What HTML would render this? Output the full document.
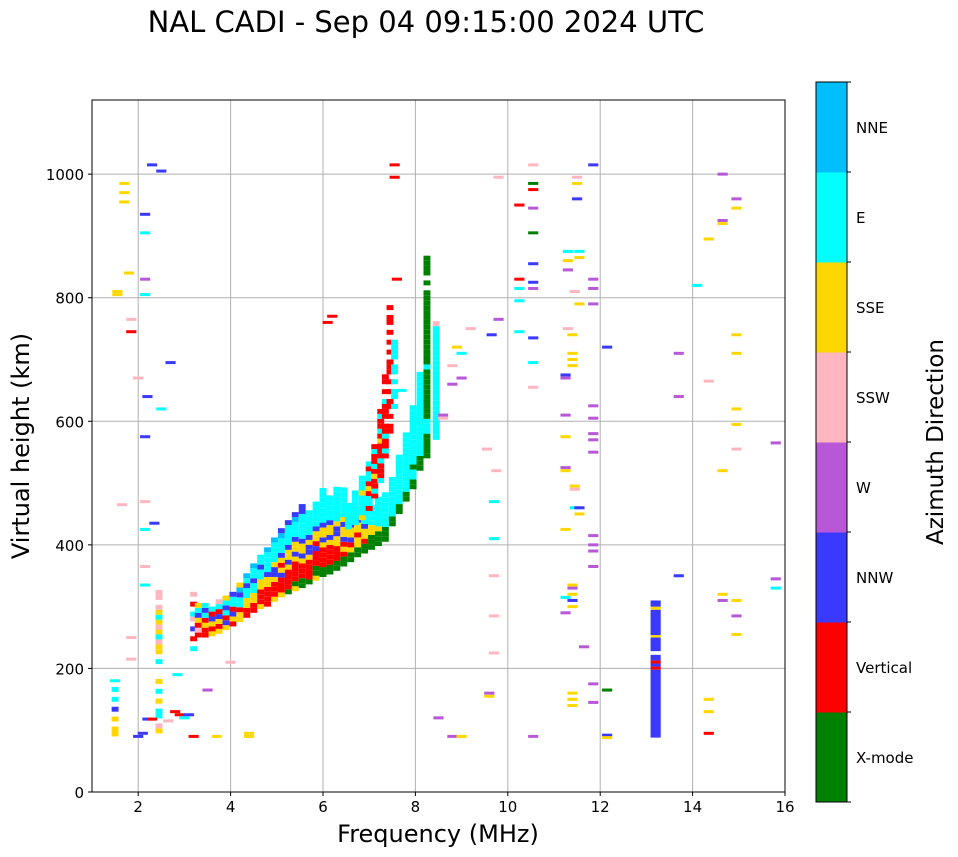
<!DOCTYPE html>
<html><head><meta charset="utf-8">
<style>
body{margin:0;background:#fff;}
svg{display:block;font-family:"DejaVu Sans","Liberation Sans",sans-serif;}
</style></head>
<body>
<svg id="chart" width="958" height="857" xmlns="http://www.w3.org/2000/svg">
<text x="426" y="32" font-size="29" text-anchor="middle">NAL CADI - Sep 04 09:15:00 2024 UTC</text>
<g id="grid"></g>
<g id="marks"></g>
<rect x="92" y="100" width="693" height="692" fill="none" stroke="#000" stroke-width="1"/>
<g id="axes"></g>
<text x="438" y="842" font-size="24" text-anchor="middle">Frequency (MHz)</text>
<text transform="translate(29,446) rotate(-90)" font-size="24" text-anchor="middle">Virtual height (km)</text>
<g id="cbar"></g>
<text transform="translate(943,442) rotate(-90)" font-size="23" text-anchor="middle">Azimuth Direction</text>
</svg>
<script>
// ---- data ----
const classNames = ["X-mode","Vertical","NNW","W","SSW","SSE","E","NNE"];
const classColors = ["#008000","#ff0000","#3a3aff","#b858d8","#ffb6c1","#ffd700","#00ffff","#00bfff"];
const xTicks = [2,4,6,8,10,12,14,16];
const yTicks = [0,200,400,600,800,1000];
// trace columns: [freq MHz, lowest height km, classes bottom->top per 8 km cell ('.' = none)]
const traceColumns = [
 [1.5,90,"55.5.2.6.6"],
 [2.45,95,"54.66.5.6.5...6.5546545654.44"],
 [3.2,228,"6.1.2.46.1.4"],
 [3.3,250,"1415265"],
 [3.45,250,"1151626"],
 [3.6,252,"515216"],
 [3.75,256,"5152164"],
 [3.9,262,"5216265"],
 [4.05,268,"1521662"],
 [4.2,275,"55166275"],
 [4.35,282,"115566267"],
 [4.5,290,"1155662667"],
 [4.65,296,"51115566266"],
 [4.8,300,"111155266667"],
 [4.95,308,"5111522566667"],
 [5.1,315,"51112515266672"],
 [5.25,320,"011115255266662"],
 [5.4,325,"5011115255266672"],
 [5.55,330,"00111525526666622"],
 [5.7,336,"011115225266666"],
 [5.85,342,"5001112155266666"],
 [6.0,348,"001111525526666666"],
 [6.15,352,"0011115255266666"],
 [6.3,358,"00111552256666666"],
 [6.45,365,"0015125525666666"],
 [6.6,372,"005125526666"],
 [6.75,380,"0055155266"],
 [6.9,386,"0015526666"],
 [7.05,392,"000556666"],
 [7.2,398,"0005666666"],
 [7.35,405,"0006666666"],
 [7.5,430,"0066666666"],
 [7.65,450,"006666666666"],
 [7.8,470,"00666666666666"],
 [7.95,490,"00660666666666666"],
 [8.1,520,"00066666666666666666"],
 [8.25,540,"0000066600000000006000000000000000.0.0000"],
 [8.45,570,"666666666666666666666664"],
 [6.55,425,"66666"],
 [6.7,432,"6666666"],
 [6.85,440,"566665666"],
 [7.0,455,"1661516616"],
 [7.12,475,"16115161161"],
 [7.25,500,"611161115161161"],
 [7.35,540,"1611611.1116.1.11"],
 [7.45,580,"11.1.11.1.1.111.1.1.1.11.1"],
 [7.55,620,"6.66.6.66.6666"]
];
// isolated points: [freq, height, class]
const pointFreq = [1.7,1.7,1.7,1.55,1.55,1.8,1.85,1.85,2.3,2.5,2.15,2.15,2.15,2.15,2.7,2.0,2.2,2.5,2.15,2.15,2.15,2.35,1.65,2.15,2.15,1.85,1.85,1.5,2.0,2.1,2.2,2.3,2.8,2.9,3.0,3.1,2.65,3.2,3.5,3.7,4.0,4.4,4.4,2.85,
 7.55,7.55,6.2,6.1,7.6,7.7,8.9,8.8,8.8,9.0,9.0,8.6,8.6,9.2,9.55,9.8,9.8,9.65,9.75,9.7,9.7,9.7,9.7,9.7,9.6,9.6,8.5,8.8,9.0,
 10.25,10.25,10.25,10.25,10.25,10.55,10.55,10.55,10.55,10.55,10.55,10.55,10.55,10.55,10.55,10.55,10.55,
 11.3,11.3,11.3,11.5,11.5,11.5,11.55,11.55,11.45,11.55,11.3,11.4,11.4,11.4,11.4,11.25,11.25,11.25,11.25,11.25,11.25,11.45,11.45,11.45,11.55,11.55,11.25,11.4,11.4,11.4,11.25,11.4,11.4,11.25,11.65,11.4,11.4,11.4,
 11.85,11.85,11.85,11.85,11.85,11.85,11.85,11.85,11.85,11.85,11.85,11.85,11.85,11.85,11.85,12.15,12.15,12.15,12.15,
 13.7,13.7,13.7,14.1,14.35,14.35,14.35,14.35,14.35,14.65,14.65,14.65,14.65,14.65,14.65,14.95,14.95,14.95,14.95,14.95,14.95,14.95,14.95,14.95,14.95,15.8,15.8,15.8];
const pointHeight = [985,970,955,810,805,840,765,745,1015,1005,935,905,830,805,695,670,640,620,575,470,425,435,465,365,335,250,215,180,90,95,118,118,130,125,120,125,115,90,165,90,210,95,90,190,
 1015,995,770,760,830,650,720,690,660,710,670,605,610,750,555,995,765,740,520,470,410,350,285,225,160,155,120,90,90,
 950,830,815,795,745,1015,985,975,945,905,855,825,815,735,695,655,90,
 875,860,845,995,985,960,875,865,810,790,750,740,710,700,690,675,670,610,575,525,520,495,490,460,460,450,425,335,330,320,315,310,300,290,235,160,150,140,
 1015,830,815,790,625,605,580,570,550,415,400,390,365,175,145,720,165,92,88,
 710,640,350,820,895,665,150,130,95,1000,925,920,520,320,310,960,945,740,710,620,595,555,310,285,255,565,345,330];
const pointClass = [5,5,5,5,5,5,4,1,2,2,2,6,3,6,2,4,2,6,2,4,6,2,4,4,6,4,4,6,2,2,2,1,1,1,6,2,4,1,3,5,4,5,5,6,
 1,1,1,1,1,6,5,4,3,6,3,4,3,4,4,4,3,2,4,6,6,4,4,4,3,5,3,3,5,
 1,1,6,6,6,4,0,1,3,0,2,2,3,2,6,4,3,
 6,5,3,4,5,2,6,5,4,5,4,5,5,5,5,2,3,3,5,3,5,5,4,6,2,5,5,5,3,5,6,2,5,3,3,5,5,5,
 2,3,3,3,3,3,3,3,3,3,3,3,3,3,3,2,0,2,5,
 3,3,2,6,5,4,5,5,1,3,3,5,5,5,3,3,5,5,5,5,5,4,5,3,5,3,3,6];
// vertical bar at 13.2 MHz: segments [from km, to km, class]
const barFreq = 13.2;
const barSegments = [[88,198,2],[198,203,1],[203,208,2],[208,213,1],[213,222,2],[228,250,2],[250,254,5],[254,295,2],[295,300,5],[300,310,2]];

// ---- scales ----
const X0=92,X1=785,Y0=792,Y1=100;
const xs = f => X0 + (f-1)/(16-1)*(X1-X0);
const ys = h => Y0 - h/1120*(Y0-Y1);
const NS="http://www.w3.org/2000/svg";
function mk(tag, attrs, parent){const e=document.createElementNS(NS,tag);for(const k in attrs)e.setAttribute(k,attrs[k]);parent.appendChild(e);return e;}
const grid=document.getElementById('grid'), marks=document.getElementById('marks'), axes=document.getElementById('axes'), cbar=document.getElementById('cbar');

xTicks.forEach(t=>{
  const l=mk('line',{x1:xs(t),x2:xs(t),y1:Y1,y2:Y0,stroke:'#b0b0b0','stroke-width':1},grid);
  
  
  const tk=mk('line',{x1:xs(t),x2:xs(t),y1:Y0,y2:Y0+4,stroke:'#000'},axes);
  
  
  const tx=mk('text',{x:xs(t),y:Y0+20,'font-size':15,'text-anchor':'middle'},axes);
  tx.textContent=t;
  
  
});
yTicks.forEach(t=>{
  const l=mk('line',{x1:X0,x2:X1,y1:ys(t),y2:ys(t),stroke:'#b0b0b0','stroke-width':1},grid);
  
  
  const tk=mk('line',{x1:X0-4,x2:X0,y1:ys(t),y2:ys(t),stroke:'#000'},axes);
  
  
  const tx=mk('text',{x:X0-8,y:ys(t)+6,'font-size':15,'text-anchor':'end'},axes);
  tx.textContent=t;
  
  
});

const cw = xs(1.15)-xs(1);
traceColumns.forEach(col=>{
  const [f,lo,s]=col;
  for(let i=0;i<s.length;i++){
    if(s[i]==='.')continue;
    const c=+s[i], h=lo+i*8;
    const r=mk('rect',{x:xs(f)-cw/2,y:ys(h+8),width:cw,height:ys(h)-ys(h+8),fill:classColors[c]},marks);
    
    
  }
});
const pw = xs(1.22)-xs(1);
pointFreq.forEach((f,i)=>{
  const c=pointClass[i], h=pointHeight[i];
  const r=mk('rect',{x:xs(f)-pw/2,y:ys(h)-1.5,width:pw,height:3,fill:classColors[c]},marks);
  
  
});
const bw = xs(1.22)-xs(1);
barSegments.forEach(sg=>{
  const r=mk('rect',{x:xs(barFreq)-bw/2,y:ys(sg[1]),width:bw,height:ys(sg[0])-ys(sg[1]),fill:classColors[sg[2]]},marks);
  
  
});

// colorbar
const CB_X=816,CB_W=31,CB_T=82,CB_B=802,seg=(CB_B-CB_T)/classNames.length;
classNames.forEach((n,i)=>{
  const y=CB_B-(i+1)*seg;
  const r=mk('rect',{x:CB_X,y:y,width:CB_W,height:seg+0.5,fill:classColors[i]},cbar);
  
  
  const t=mk('text',{x:856,y:y+seg/2+6,'font-size':15},cbar);
  t.textContent=n;
  
  
});
for(let i=0;i<=classNames.length;i++){
  const y=CB_T+i*seg;
  const l=mk('line',{x1:CB_X+CB_W,x2:CB_X+CB_W+4,y1:y,y2:y,stroke:'#000'},cbar);
  
  
}
const fr=mk('rect',{x:CB_X,y:CB_T,width:CB_W,height:CB_B-CB_T,fill:'none',stroke:'#000'},cbar);


</script>
</body></html>
